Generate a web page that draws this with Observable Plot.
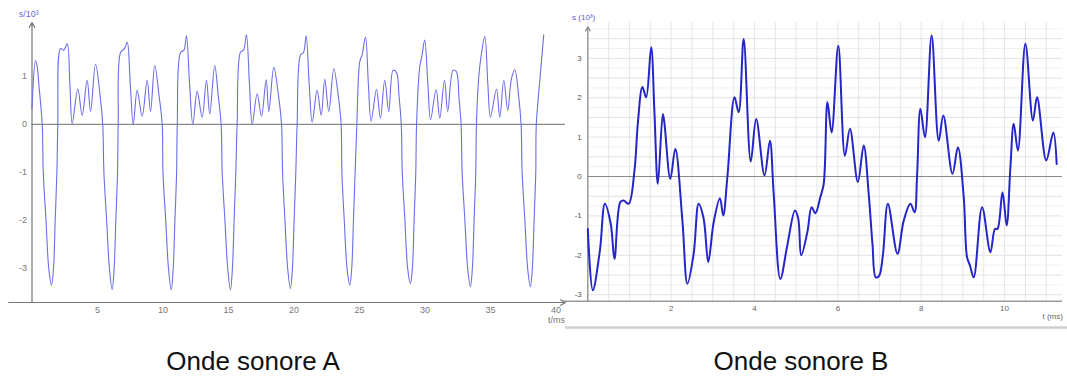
<!DOCTYPE html>
<html>
<head>
<meta charset="utf-8">
<script src="https://cdn.jsdelivr.net/npm/d3@7"></script>
<script src="https://cdn.jsdelivr.net/npm/@observablehq/plot@0.6"></script>
<style>
  html, body { margin: 0; padding: 0; background: #fff; overflow: hidden; }
  #wrap { position: relative; width: 1067px; height: 376px; }
  .panel { position: absolute; top: 0; }
  .title { position: absolute; top: 346px; font-family: "Liberation Sans", Arial, sans-serif; font-size: 26px; color: #111; text-align: center; width: 400px; }
</style>
</head>
<body>
<div id="wrap">
  <div id="pa" class="panel" style="left:0px"></div>
  <div id="pb" class="panel" style="left:560px"></div>
  <div class="title" style="left:53px">Onde sonore A</div>
  <div class="title" style="left:601px">Onde sonore B</div>
</div>
<script>
// ---------- Data ----------
const titles = ["Onde sonore A", "Onde sonore B"];
const labelsA = {y: "s/10³", x: "t/ms"};
const labelsB = {y: "s (10³)", x: "t (ms)"};
const xTicksA = [5, 10, 15, 20, 25, 30, 35, 40];
const yTicksA = [-3, -2, -1, 0, 1];
const xTicksB = [2, 4, 6, 8, 10];
const yTicksB = [-3, -2, -1, 0, 1, 2, 3];

// Onde sonore A: [t (ms), s (10^3)]
const waveA = [
  [0,0.33],[0.27,1.33],[0.40,1.2],[0.52,0.85],[0.78,0],
  [0.86,-1],[1.07,-2],[1.28,-3],[1.49,-3.35],[1.64,-3],[1.77,-2],[1.90,-1],[1.97,0],
  [2.18,1.58],[2.43,1.55],[2.69,1.68],[2.89,0.85],[3.07,0.02],[3.50,0.74],[3.83,0.19],[4.21,0.92],[4.47,0.27],[4.85,1.26],[5.20,0.6],[5.40,0],
  [5.49,-1],[5.70,-2],[5.91,-3],[6.12,-3.44],[6.27,-3],[6.40,-2],[6.53,-1],[6.58,0],
  [6.76,1.5],[7.06,1.58],[7.27,1.71],[7.50,0.85],[7.73,0],[8.03,0.71],[8.41,0.17],[8.79,0.92],[9.05,0.27],[9.37,1.23],[9.70,0.6],[9.94,0],
  [10.00,-1],[10.21,-2],[10.42,-3],[10.63,-3.45],[10.78,-3],[10.91,-2],[11.04,-1],[11.09,0],
  [11.34,1.5],[11.60,1.55],[11.79,1.85],[12.03,0.85],[12.28,0],[12.61,0.69],[12.99,0.15],[13.32,0.92],[13.57,0.22],[13.95,1.23],[14.22,0.6],[14.44,0],
  [14.52,-1],[14.73,-2],[14.94,-3],[15.15,-3.45],[15.30,-3],[15.43,-2],[15.56,-1],[15.66,0],
  [15.92,1.51],[16.15,1.55],[16.37,1.87],[16.60,0.85],[16.81,0],[17.19,0.64],[17.52,0.17],[17.88,0.93],[18.08,0.27],[18.46,1.19],[18.82,0.6],[19.05,0],
  [19.13,-1],[19.31,-2],[19.52,-3],[19.73,-3.42],[19.88,-3],[20.01,-2],[20.14,-1],[20.24,0],
  [20.50,1.45],[20.73,1.5],[20.93,1.85],[21.16,0.85],[21.39,0.05],[21.77,0.71],[22.08,0.19],[22.35,0.94],[22.66,0.27],[23.04,1.16],[23.38,0.6],[23.60,0],
  [23.66,-1],[23.84,-2],[24.05,-3],[24.26,-3.35],[24.41,-3],[24.54,-2],[24.67,-1],[24.80,0],
  [25.02,1.3],[25.20,1.45],[25.46,1.82],[25.68,0.85],[25.89,0.07],[26.30,0.73],[26.60,0.13],[26.93,0.92],[27.24,0.27],[27.57,1.13],[27.83,1.08],[28.02,0.6],[28.19,0],
  [28.27,-1],[28.47,-2],[28.68,-3],[28.89,-3.32],[29.04,-3],[29.17,-2],[29.30,-1],[29.36,0],
  [29.60,1.2],[29.78,1.45],[29.98,1.76],[30.22,0.85],[30.43,0.1],[30.85,0.73],[31.13,0.13],[31.49,0.92],[31.74,0.27],[32.15,1.13],[32.40,1.1],[32.60,0.55],[32.76,0],
  [32.84,-1],[33.05,-2],[33.26,-3],[33.47,-3.38],[33.62,-3],[33.75,-2],[33.88,-1],[33.93,0],
  [34.11,1.0],[34.30,1.45],[34.57,1.83],[34.80,0.85],[35.00,0.15],[35.46,0.74],[35.71,0.15],[36.02,0.92],[36.32,0.29],[36.60,0.95],[36.86,1.14],[37.15,0.6],[37.34,0],
  [37.42,-1],[37.63,-2],[37.84,-3],[38.05,-3.38],[38.20,-3],[38.33,-2],[38.46,-1],[38.50,0],
  [38.77,0.92],[39.07,1.87]
];

// Onde sonore B: [t (ms), s (10^3)]
const waveB = [
  [0,-1.33],[0.12,-2.89],[0.29,-1.88],[0.41,-0.69],[0.55,-1.2],[0.64,-2.09],[0.78,-0.65],[0.86,-0.61],[0.98,-0.69],
  [1.12,0.15],[1.20,1.34],[1.31,2.27],[1.40,2.01],[1.52,3.28],[1.60,1.6],[1.68,-0.19],[1.80,1.59],[1.84,1.34],[1.98,-0.06],[2.10,0.7],
  [2.27,-1.12],[2.39,-2.72],[2.54,-1.96],[2.66,-0.69],[2.78,-1.07],[2.89,-2.17],[3.02,-1.16],[3.17,-0.55],[3.25,-0.99],[3.35,0],
  [3.52,2.01],[3.62,1.63],[3.74,3.49],[3.91,0.38],[4.04,1.46],[4.24,0.03],[4.37,0.91],[4.46,-0.44],
  [4.62,-2.6],[4.78,-1.79],[4.97,-0.86],[5.05,-1.07],[5.12,-2.0],[5.27,-1.4],[5.37,-0.78],[5.46,-0.93],[5.58,-0.52],[5.66,-0.19],
  [5.75,1.89],[5.85,1.12],[6.01,3.32],[6.17,0.53],[6.29,1.21],[6.48,-0.14],[6.62,0.79],[6.74,-0.44],
  [6.83,-1.71],[6.91,-2.56],[6.99,-2.52],[7.08,-2.0],[7.20,-0.69],[7.43,-1.96],[7.58,-1.12],[7.74,-0.69],[7.84,-0.91],[7.90,0],
  [7.98,1.72],[8.09,1.0],[8.25,3.58],[8.42,0.91],[8.53,1.55],[8.75,0.07],[8.88,0.74],[9.02,-0.52],
  [9.10,-2.05],[9.17,-2.26],[9.26,-2.56],[9.46,-0.78],[9.66,-1.92],[9.77,-1.33],[9.83,-1.33],[9.95,-0.4],[10.05,-1.24],[10.14,0.24],
  [10.22,1.34],[10.32,0.66],[10.50,3.37],[10.68,1.42],[10.78,2.01],[11.00,0.41],[11.17,1.12],[11.25,0.32]
];

const gridXB = d3.range(0, 11.5, 0.5);
const gridYB = d3.range(-3, 4, 0.25);

// ---------- Panel A ----------
const font = "Liberation Sans, Arial, sans-serif";
const xA = [0, 40.73], yA = [-3.71, 2.125];
const plotA = Plot.plot({
  width: 575, height: 330,
  marginLeft: 31.5, marginRight: 10, marginTop: 22, marginBottom: 28,
  style: {fontFamily: font, fontSize: "9px", background: "transparent", overflow: "visible"},
  x: {domain: xA},
  y: {domain: yA},
  marks: [
    Plot.ruleY([0], {stroke: "#8a8a8a", strokeWidth: 1.3}),
    Plot.arrow([0], {x1: 0, y1: yA[0], x2: 0, y2: yA[1], stroke: "#777", strokeWidth: 1.2, headLength: 7}),
    Plot.arrow([0], {x1: -1.77, y1: yA[0], x2: xA[1], y2: yA[0], stroke: "#777", strokeWidth: 1.2, headLength: 7}),
    Plot.axisY({ticks: yTicksA, tickSize: 0, tickPadding: 5, tickFormat: d => `${d}`, color: "#777", fontSize: 9}),
    Plot.axisX({ticks: xTicksA, tickSize: 0, tickPadding: 4, tickFormat: d => `${d}`, color: "#777", fontSize: 9}),
    Plot.line(waveA, {x: d => d[0], y: d => d[1], curve: "catmull-rom", stroke: "#6d6de8", strokeWidth: 1.1}),
    Plot.text([labelsA.y], {x: -0.25, y: 2.29, text: d => d, fill: "#6a6ad8", fontSize: 9}),
    Plot.text([labelsA.x], {x: 40.05, y: -4.08, text: d => d, fill: "#777", fontSize: 9})
  ]
});
document.getElementById("pa").appendChild(plotA);

// ---------- Panel B ----------
const xB = [0, 11.39], yB = [-3.165, 3.91];
const plotB = Plot.plot({
  width: 507, height: 340,
  marginLeft: 27.3, marginRight: 5, marginTop: 22, marginBottom: 39.3,
  style: {fontFamily: font, fontSize: "8px", background: "transparent", overflow: "visible"},
  x: {domain: xB},
  y: {domain: yB},
  marks: [
    Plot.ruleY(gridYB, {y: d => d, stroke: d => (Math.abs(d * 2 - Math.round(d * 2)) < 1e-6 ? "#e2e2e2" : "#f0f0f0"), strokeWidth: 1}),
    Plot.ruleX(gridXB, {x: d => d, stroke: "#e6e6e6", strokeWidth: 1}),
    Plot.ruleY([0], {stroke: "#8a8a8a", strokeWidth: 1.2}),
    Plot.ruleY([yB[0]], {x1: -0.6, x2: xB[1], stroke: "#999", strokeWidth: 1.5}),
    Plot.arrow([0], {x1: 0, y1: yB[0], x2: 0, y2: 3.8, stroke: "#888", strokeWidth: 1.2, headLength: 6}),
    Plot.ruleY([-3.83], {x1: -0.535, x2: 11.6, stroke: "#cfcfcf", strokeWidth: 2.5}),
    Plot.axisY({ticks: yTicksB, tickSize: 0, tickPadding: 6, tickFormat: d => `${d}`, color: "#555", fontSize: 8}),
    Plot.axisX({ticks: xTicksB, tickSize: 0, tickPadding: 4, tickFormat: d => `${d}`, color: "#666", fontSize: 8}),
    Plot.line(waveB, {x: d => d[0], y: d => d[1], curve: "catmull-rom", stroke: "#2525c8", strokeWidth: 2}),
    Plot.text([labelsB.y], {x: -0.1, y: 4.04, text: d => d, fill: "#5a5ad6", fontSize: 8}),
    Plot.text([labelsB.x], {x: 11.4, y: -3.56, text: d => d, textAnchor: "end", fill: "#666", fontSize: 8})
  ]
});
document.getElementById("pb").appendChild(plotB);
</script>
</body>
</html>
